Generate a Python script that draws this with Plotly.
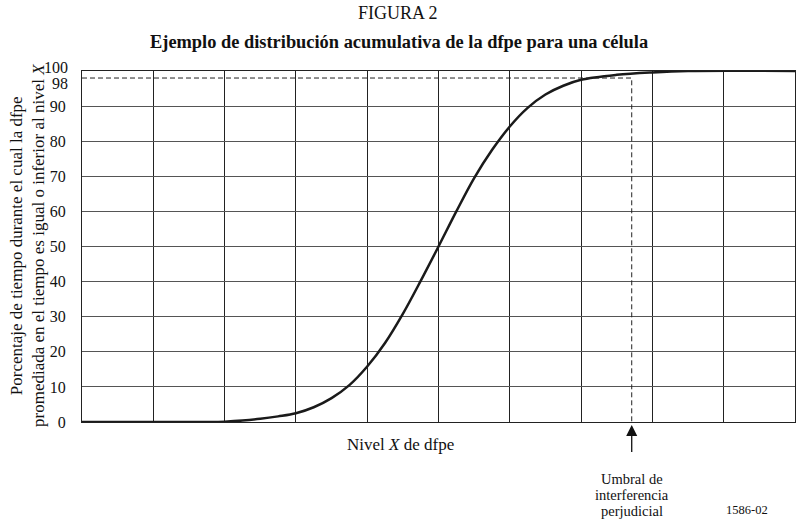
import plotly.graph_objects as go

# Data (x in grid units of dfpe level, y in percent)
level_x = [0, 1.0, 1.8, 2.0, 2.25, 2.5, 2.75, 3.0, 3.25, 3.5, 3.75, 4.0, 4.25, 4.5, 4.75,
           5.0, 5.25, 5.5, 5.75, 6.0, 6.25, 6.5, 6.75, 7.0, 7.5, 8.0, 8.5, 10.0]
pct_y = [0, 0, 0, 0.1, 0.4, 0.9, 1.6, 2.5, 4.2, 6.8, 10.5, 15.8, 22.5, 30.8, 40.2,
         50, 60, 69.5, 77.5, 84.2, 89.5, 93.3, 95.8, 97.5, 98.9, 99.6, 100, 100]

y_ticks = [0, 10, 20, 30, 40, 50, 60, 70, 80, 90]
x_grid = list(range(0, 11))
threshold_pct = 98
threshold_x = 7.71

FONT = "Liberation Serif"
L, R, T, B = 82, 1, 71, 98
PW, PH = 796 - L - R, 520 - T - B


def px_x(px):
    return (px - L) / PW


def px_y(py):
    return (520 - B - py) / PH


fig = go.Figure()
fig.add_trace(go.Scatter(x=level_x, y=pct_y, mode="lines",
                         line=dict(color="#1a1a1a", width=2.5, shape="spline", smoothing=1.0),
                         showlegend=False, hoverinfo="skip"))

# dashed threshold lines
fig.add_trace(go.Scatter(x=[0, threshold_x, threshold_x], y=[threshold_pct, threshold_pct, 0],
                         mode="lines", line=dict(color="#222", width=1, dash="5px,3px"),
                         showlegend=False, hoverinfo="skip"))

fig.update_layout(
    width=796, height=520,
    margin=dict(l=L, r=R, t=T, b=B),
    paper_bgcolor="white", plot_bgcolor="white",
    font=dict(family=FONT, color="#111", size=16),
    xaxis=dict(range=[0, 10], tickvals=x_grid, showticklabels=False, ticks="",
               showgrid=True, gridcolor="#222", gridwidth=1, zeroline=False,
               showline=True, linecolor="#222", linewidth=1, mirror=True),
    yaxis=dict(range=[0, 100], tickvals=y_ticks, ticks="", ticklabelstandoff=12,
               showgrid=True, gridcolor="#555", gridwidth=1, zeroline=False,
               showline=True, linecolor="#222", linewidth=1, mirror=True,
               tickfont=dict(family=FONT, size=16)),
)

ann = []
# extra y labels for 100 and 98
ann.append(dict(x=0, y=100, xref="x", yref="y", text="100", showarrow=False,
                xanchor="right", xshift=-12, yshift=4, font=dict(size=16)))
ann.append(dict(x=0, y=threshold_pct, xref="x", yref="y", text="98", showarrow=False,
                xanchor="right", xshift=-12, yshift=-5, font=dict(size=16)))
# titles
ann.append(dict(x=px_x(398), y=px_y(13), xref="paper", yref="paper", text="FIGURA 2",
                showarrow=False, yanchor="middle", font=dict(size=18)))
ann.append(dict(x=px_x(399), y=px_y(42), xref="paper", yref="paper",
                text="<b>Ejemplo de distribución acumulativa de la dfpe para una célula</b>",
                showarrow=False, yanchor="middle", font=dict(size=18.4)))
# y axis title
ann.append(dict(x=px_x(27), y=px_y(246), xref="paper", yref="paper",
                text="Porcentaje de tiempo durante el cual la dfpe<br>promediada en el tiempo es igual o inferior al nivel <i>X</i>",
                showarrow=False, textangle=-90, xanchor="center", yanchor="middle",
                font=dict(size=17)))
# x axis title
ann.append(dict(x=px_x(400), y=px_y(445), xref="paper", yref="paper",
                text="Nivel <i>X</i> de dfpe", showarrow=False, yanchor="middle",
                font=dict(size=17)))
# arrow
ann.append(dict(x=threshold_x, y=0, xref="x", yref="y", text=" ", showarrow=True,
                ax=0, ay=40, arrowhead=2, arrowsize=1.7, arrowwidth=1.3,
                arrowcolor="#111", standoff=3))
for i, line in enumerate(["Umbral de", "interferencia", "perjudicial"]):
    ann.append(dict(x=threshold_x, y=px_y(479 + 16.2 * i), xref="x", yref="paper",
                    text=line, showarrow=False, yanchor="middle", font=dict(size=14.5)))
ann.append(dict(x=px_x(770), y=px_y(510), xref="paper", yref="paper",
                text="1586-02", showarrow=False, yanchor="middle", font=dict(size=12.5)))

fig.update_layout(annotations=ann)
fig.write_html("out.html", config={"displayModeBar": False},
               post_script="document.body.style.margin='0';")
